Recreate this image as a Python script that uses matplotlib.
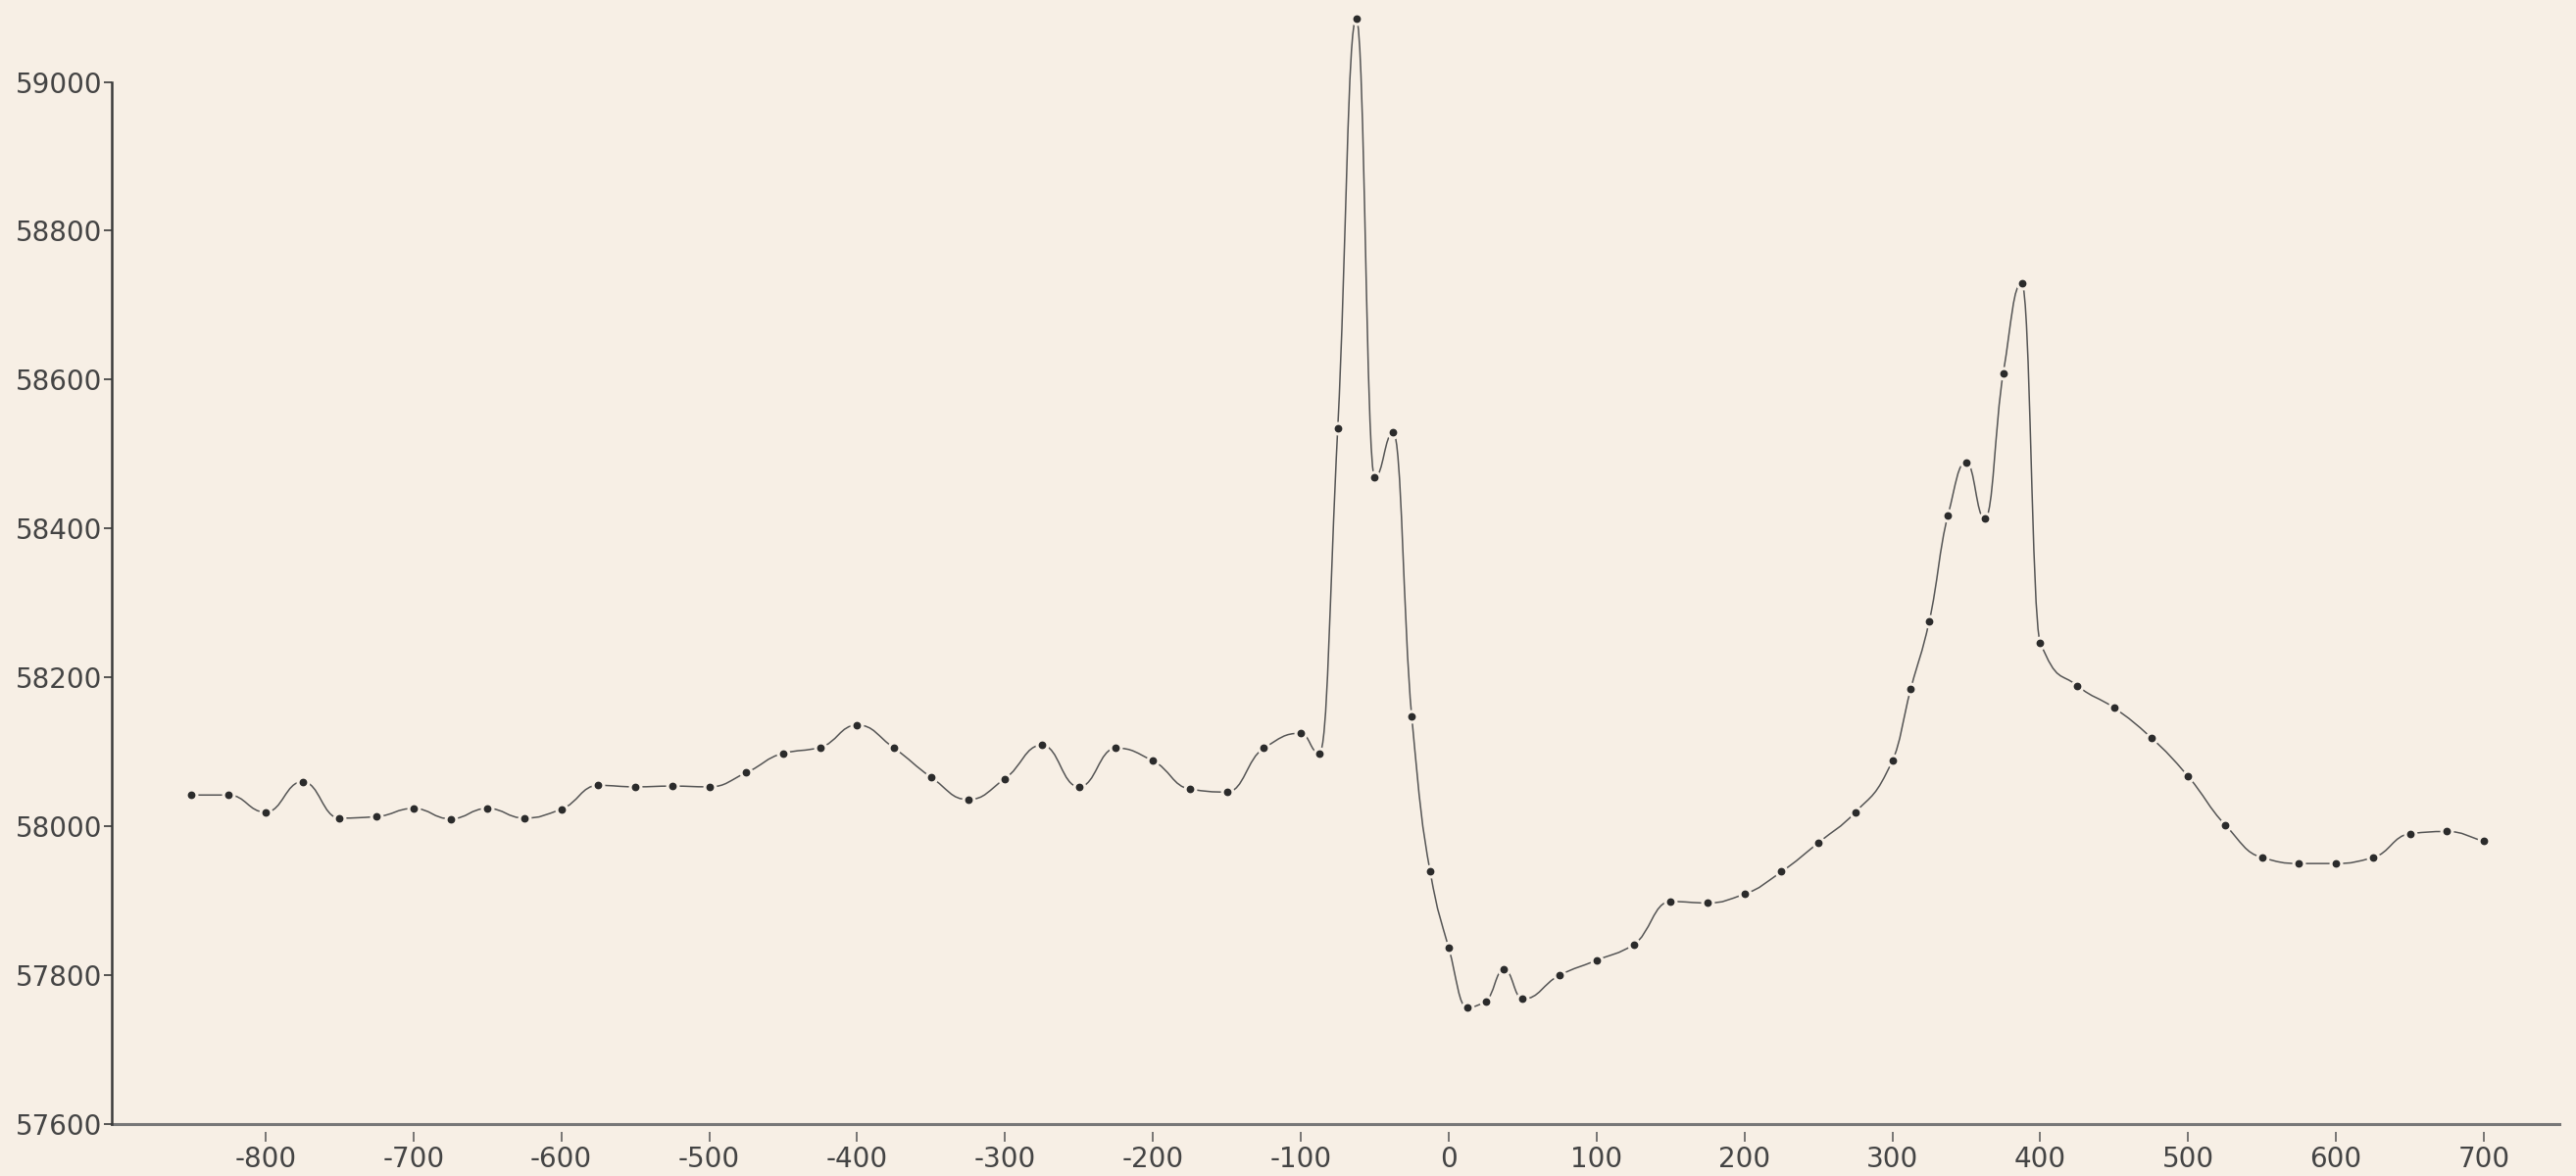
import numpy as np
import matplotlib
matplotlib.use("Agg")
import matplotlib.pyplot as plt
from matplotlib.path import Path
from matplotlib.patches import PathPatch

# x positions and plotted values
positions = [-850, -825, -800, -775, -750, -725, -700, -675, -650, -625,
             -600, -575, -550, -525, -500, -475, -450, -425, -400, -375,
             -350, -325, -300, -275, -250, -225, -200, -175, -150, -125,
             -100, -87.5, -75, -62.5, -50, -37.5, -25, -12.5, 0, 12.5,
             25, 37.5, 50, 75, 100, 125, 150, 175, 200, 225,
             250, 275, 300, 312.5, 325, 337.5, 350, 362.5, 375, 387.5,
             400, 425, 450, 475, 500, 525, 550, 575, 600, 625,
             650, 675, 700]
readings = [58042, 58042, 58019, 58060, 58011, 58013, 58024, 58010, 58024, 58011,
            58023, 58055, 58053, 58054, 58053, 58072, 58098, 58106, 58136, 58105,
            58066, 58036, 58064, 58109, 58053, 58105, 58088, 58050, 58046, 58105,
            58125, 58098, 58535, 59085, 58469, 58529, 58148, 57939, 57837, 57757,
            57765, 57808, 57768, 57800, 57820, 57841, 57899, 57897, 57909, 57939,
            57978, 58019, 58088, 58185, 58276, 58417, 58489, 58413, 58609, 58729,
            58247, 58189, 58159, 58119, 58067, 58002, 57958, 57950, 57950, 57958,
            57990, 57993, 57980]

xticks = [-800, -700, -600, -500, -400, -300, -200, -100, 0, 100, 200, 300, 400, 500, 600, 700]
yticks = [57600, 57800, 58000, 58200, 58400, 58600, 58800, 59000]

BG = "#f7efe5"
INK = "#3a3a3a"

plt.rcParams["axes.unicode_minus"] = False


def monotone_slopes(x, y):
    # Fritsch-Carlson slopes so the smooth curve does not overshoot
    h = np.diff(x)
    d = np.diff(y) / h
    m = np.zeros_like(y)
    for k in range(1, len(x) - 1):
        if d[k - 1] * d[k] > 0:
            w1 = 2 * h[k] + h[k - 1]
            w2 = h[k] + 2 * h[k - 1]
            m[k] = (w1 + w2) / (w1 / d[k - 1] + w2 / d[k])
    m[0] = d[0]
    m[-1] = d[-1]
    return m


def smooth_path(x, y, handle=0.46):
    # bezier through every reading, a bit boxier than plain hermite
    x = np.asarray(x, float)
    y = np.asarray(y, float)
    m = monotone_slopes(x, y)
    verts = [(x[0], y[0])]
    codes = [Path.MOVETO]
    for i in range(len(x) - 1):
        h = x[i + 1] - x[i]
        verts += [(x[i] + h * handle, y[i] + m[i] * h * handle),
                  (x[i + 1] - h * handle, y[i + 1] - m[i + 1] * h * handle),
                  (x[i + 1], y[i + 1])]
        codes += [Path.CURVE4] * 3
    return Path(verts, codes)


fig = plt.figure(figsize=(26.28, 12), dpi=100, facecolor=BG)
ax = fig.add_axes([114 / 2628, 53 / 1200, (2611 - 114) / 2628, 1 - 53 / 1200])
ax.set_facecolor(BG)

ax.add_patch(PathPatch(smooth_path(positions, readings), fill=False,
                       edgecolor="#555555", linewidth=1.1, zorder=2))
ax.plot(positions, readings, "o", ms=9, color=BG, zorder=3)
ax.plot(positions, readings, "o", ms=4.6, color="#2b2b2b", zorder=4)

ax.set_xlim(-904, 751)
ax.set_ylim(57600, 59110)

ax.spines["top"].set_visible(False)
ax.spines["right"].set_visible(False)
ax.spines["left"].set_bounds(57600, 59000)
ax.spines["left"].set_color(INK)
ax.spines["left"].set_linewidth(1.8)
ax.spines["bottom"].set_position(("outward", 6))
ax.spines["bottom"].set_visible(False)
ax.axhline(57600, color="#777777", linewidth=2.2, zorder=1, clip_on=False)

ax.set_xticks(xticks)
ax.set_yticks(yticks)
ax.tick_params(axis="x", direction="out", length=7, width=1.1, pad=3,
               labelsize=20, color="#555555", labelcolor="#444444")
ax.tick_params(axis="y", direction="out", length=6, width=1.2, pad=1,
               labelsize=20, color=INK, labelcolor="#444444")

fig.savefig("out.png", dpi=100, facecolor=BG)
